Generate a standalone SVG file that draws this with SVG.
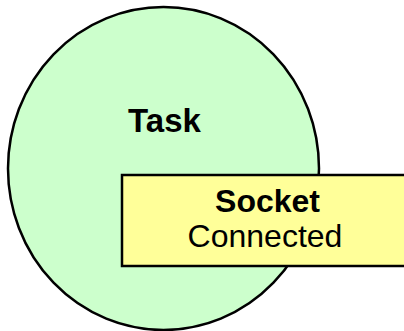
<svg xmlns="http://www.w3.org/2000/svg" width="404" height="331" viewBox="0 0 404 331">
  <style>
    .shape { stroke: #000; stroke-width: 2.5; }
    .label { font-family: "Liberation Sans", Arial, sans-serif; font-size: 32px; fill: #000; text-anchor: middle; }
    .bold { font-weight: bold; }
  </style>
  <rect x="0" y="0" width="404" height="331" fill="#fff"/>
  <g id="task">
    <ellipse class="shape" cx="163.5" cy="168.5" rx="155.5" ry="161.5" fill="#ccffcc"/>
    <text class="label bold" x="164.5" y="131.5" style="font-size:33px">Task</text>
  </g>
  <g id="socket">
    <rect class="shape" x="122" y="175" width="290" height="91" fill="#ffff99"/>
    <text class="label bold" x="267.5" y="211.5">Socket</text>
    <text class="label" x="265" y="246.5">Connected</text>
  </g>
  <g id="connectors"/>
</svg>
